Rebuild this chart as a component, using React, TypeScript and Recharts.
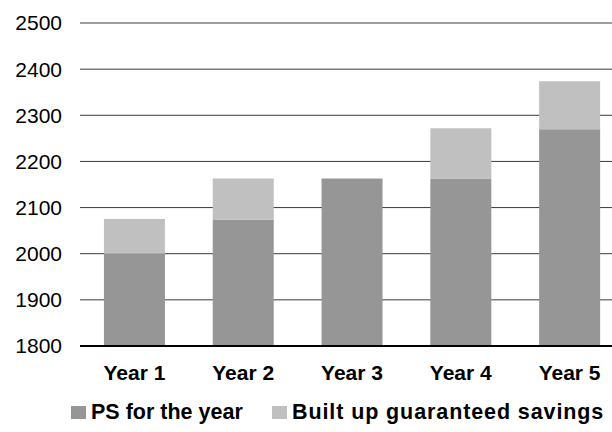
import React from "react";
import { BarChart, Bar, XAxis, YAxis, CartesianGrid, Legend } from "recharts";

const years = ["Year 1", "Year 2", "Year 3", "Year 4", "Year 5"];
const psForYear = [2000, 2074, 2163, 2163, 2270];
const builtUpSavings = [75, 89, 0, 109, 104];
const yTicks = [1800, 1900, 2000, 2100, 2200, 2300, 2400, 2500];

const data = years.map((year, i) => ({
  year,
  ps: psForYear[i],
  builtUp: builtUpSavings[i],
}));

const DARK = "#969696";
const LIGHT = "#c0c0c0";
const FONT = "'Liberation Sans', Arial, sans-serif";

const legendItems = [
  { label: "PS for the year", color: DARK, left: 71, spacing: 0 },
  { label: "Built up guaranteed savings", color: LIGHT, left: 272, spacing: 0.9 },
];

const LegendContent = () => (
  <div style={{ position: "relative", height: 38, width: 624 }}>
    {legendItems.map((item) => (
      <div
        key={item.label}
        style={{
          position: "absolute",
          left: item.left,
          top: 6,
          display: "flex",
          alignItems: "center",
          whiteSpace: "nowrap",
        }}
      >
        <span style={{ display: "inline-block", width: 15, height: 13, background: item.color, marginRight: 5 }} />
        <span
          style={{
            fontFamily: FONT,
            fontWeight: 700,
            fontSize: 21.5,
            letterSpacing: item.spacing,
            color: "#000",
            lineHeight: "24px",
          }}
        >
          {item.label}
        </span>
      </div>
    ))}
  </div>
);

export default function App() {
  return (
    <div style={{ width: 612, height: 432, overflow: "hidden", position: "fixed", left: 0, top: 0, background: "#fff" }}>
      <BarChart
        width={624}
        height={432}
        data={data}
        margin={{ top: 23, right: 0, left: 0, bottom: 0 }}
        barCategoryGap="22%"
      >
        <CartesianGrid vertical={false} stroke="#3a3a3a" strokeWidth={1} />
        <XAxis
          dataKey="year"
          height={48}
          tickLine={false}
          tickSize={0}
          tickMargin={19}
          axisLine={{ stroke: "#000", strokeWidth: 2 }}
          tick={{ fill: "#000", fontSize: 21, fontWeight: 700, fontFamily: FONT }}
        />
        <YAxis
          width={80}
          domain={[1800, 2500]}
          ticks={yTicks}
          allowDataOverflow
          tickLine={false}
          tickSize={0}
          tickMargin={18}
          axisLine={false}
          tick={{ fill: "#000", fontSize: 21, fontFamily: FONT }}
        />
        <Legend verticalAlign="bottom" height={38} content={<LegendContent />} />
        <Bar dataKey="ps" name="PS for the year" stackId="a" fill={DARK} isAnimationActive={false} />
        <Bar dataKey="builtUp" name="Built up guaranteed savings" stackId="a" fill={LIGHT} isAnimationActive={false} />
      </BarChart>
    </div>
  );
}
